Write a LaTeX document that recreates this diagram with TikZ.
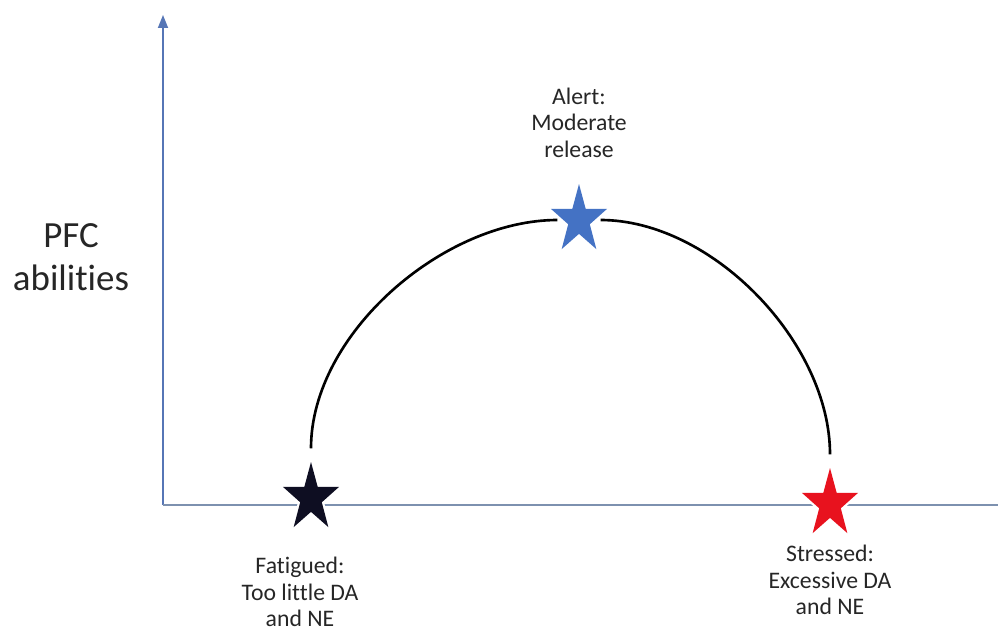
\documentclass[tikz,border=0pt]{standalone}
\usepackage{fontspec}
\setmainfont{Carlito}[Ligatures=NoCommon]
\usetikzlibrary{shapes.geometric,arrows.meta}
\definecolor{axisblue}{RGB}{86,118,182}
\definecolor{axisgray}{RGB}{125,145,175}
\definecolor{txtgray}{RGB}{38,38,38}
\definecolor{starblack}{RGB}{14,14,34}
\definecolor{starred}{RGB}{232,18,30}
\definecolor{starblue}{RGB}{68,114,196}

\begin{document}
\begin{tikzpicture}[x=0.02cm,y=0.02cm,
                    mark star/.style={star,star points=5,star point ratio=2.6,inner sep=0pt,outer sep=2pt,
                                      minimum size=1.18cm,yscale=1.22,transform shape,
                                      preaction={draw=white,line width=2.5pt}},
                    lbl/.style={font=\fontsize{13.5pt}{14.8pt}\selectfont,align=center,text=txtgray,anchor=base,inner sep=0pt},
                    axis/.style={line width=1pt},
                    curve/.style={black,line width=1.5pt}]
  \useasboundingbox (0,0) rectangle (998,630);
  % axes
  \coordinate (o) at (163,125);
  \coordinate (ytop) at (163,615);
  \coordinate (xend) at (998,125);
  \draw[axis,axisblue,-{Triangle[width=0.2cm,length=0.26cm]}] (o) -- (ytop);
  \draw[axis,axisgray] (o) -- (xend);
  \node[font=\fontsize{21pt}{24.4pt}\selectfont,align=center,text=txtgray,anchor=base,inner sep=0pt] (pfc) at (71,340) {PFC\\abilities};
  % the three states
  \node[mark star,fill=starblack] (fat) at (311,132) {};
  \node[mark star,fill=starblue] (alrt) at (579,410) {};
  \node[mark star,fill=starred] (strs) at (830,126) {};
  \draw[curve] (fat) to[out=90,in=180,looseness=0.87] (alrt);
  \draw[curve] (alrt) to[out=0,in=90,looseness=0.87] (strs);
  \node[lbl] (alrtlbl) at (579,473) {Alert:\\Moderate\\release};
  \node[lbl] (fatlbl) at (300,4) {Fatigued:\\Too little DA\\and NE};
  \node[lbl] (strslbl) at (830,16) {Stressed:\\Excessive DA\\and NE};
\end{tikzpicture}
\end{document}
